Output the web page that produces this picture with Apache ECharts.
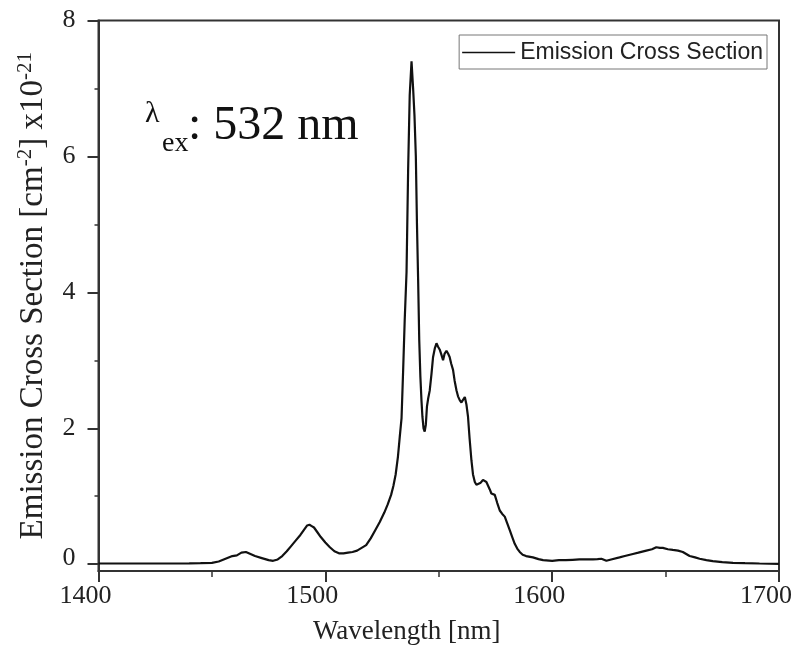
<!DOCTYPE html>
<html>
<head>
<meta charset="utf-8">
<title>Emission Cross Section</title>
<script src="https://cdn.jsdelivr.net/npm/echarts@6/dist/echarts.min.js"></script>
<style>
  html, body { margin: 0; padding: 0; background: #ffffff; }
  #chart { width: 799px; height: 648px; }
</style>
</head>
<body>
<div id="chart"></div>
<script>
// Emission cross section spectrum (units of 1e-21 cm^2) versus wavelength in nm
const wavelength = [
  1400, 1410, 1420, 1430, 1440, 1445, 1450, 1453, 1456, 1459,
  1461, 1463, 1465, 1467, 1469, 1472, 1475, 1477, 1479, 1481,
  1483, 1485, 1487, 1489, 1490.5, 1492, 1493, 1494, 1495, 1496.5,
  1498, 1500, 1502, 1504, 1506, 1508, 1510, 1512, 1514, 1516,
  1518, 1520, 1522, 1524, 1526, 1527.5, 1529, 1530, 1531, 1532,
  1532.8, 1533.6, 1534.3, 1535, 1535.8, 1536.5, 1537.2, 1538, 1538.7, 1539.3,
  1539.9, 1540.4, 1540.9, 1541.4, 1541.9, 1542.4, 1542.8, 1543.3, 1543.8, 1544.3,
  1544.8, 1545.4, 1546, 1546.8, 1547.5, 1548.3, 1549, 1549.7, 1550.4, 1551.2,
  1551.9, 1552.6, 1553.4, 1554.1, 1554.8, 1555.5, 1556.3, 1557, 1557.8, 1558.5,
  1559.3, 1560, 1560.7, 1561.5, 1562.2, 1562.9, 1563.6, 1564.4, 1565.1, 1565.9,
  1566.6, 1567.3, 1568.5, 1569.5, 1570.3, 1571, 1571.7, 1572.5, 1573.2, 1574,
  1574.7, 1575.8, 1576.9, 1578, 1579.1, 1580.2, 1581.3, 1582.4, 1583.5, 1584.6,
  1585.7, 1587, 1588.5, 1591.5, 1594, 1596, 1600, 1603, 1606, 1609,
  1612, 1615, 1618, 1620, 1621.7, 1623.9, 1626, 1629.7, 1632, 1635.6,
  1638, 1641.5, 1644, 1645.9, 1647.5, 1648.8, 1651, 1653.2, 1655.5, 1657.6,
  1660.6, 1663, 1665, 1668, 1670.8, 1675, 1679.7, 1685, 1691.4, 1700
];
const crossSection = [
  0.010, 0.010, 0.010, 0.010, 0.012, 0.015, 0.020, 0.040, 0.080, 0.120,
  0.130, 0.170, 0.180, 0.150, 0.120, 0.090, 0.060, 0.050, 0.070, 0.120,
  0.190, 0.270, 0.350, 0.430, 0.500, 0.570, 0.580, 0.560, 0.540, 0.470,
  0.400, 0.320, 0.250, 0.190, 0.160, 0.160, 0.170, 0.180, 0.200, 0.240,
  0.280, 0.380, 0.500, 0.620, 0.760, 0.880, 1.020, 1.150, 1.320, 1.580,
  1.870, 2.150, 2.850, 3.600, 4.300, 5.800, 6.900, 7.400, 7.000, 6.600,
  6.000, 5.000, 4.200, 3.300, 2.760, 2.400, 2.170, 2.000, 1.950, 2.050,
  2.320, 2.450, 2.550, 2.800, 3.050, 3.180, 3.250, 3.200, 3.160, 3.080,
  3.000, 3.100, 3.140, 3.100, 3.050, 2.950, 2.860, 2.700, 2.560, 2.470,
  2.410, 2.380, 2.370, 2.460, 2.350, 2.170, 1.850, 1.530, 1.320, 1.210,
  1.170, 1.150, 1.200, 1.240, 1.240, 1.210, 1.190, 1.100, 1.040, 1.040,
  1.020, 0.900, 0.790, 0.740, 0.700, 0.600, 0.500, 0.400, 0.300, 0.230,
  0.180, 0.140, 0.120, 0.100, 0.075, 0.060, 0.050, 0.060, 0.060, 0.065,
  0.070, 0.070, 0.070, 0.075, 0.080, 0.050, 0.070, 0.100, 0.120, 0.150,
  0.170, 0.200, 0.220, 0.250, 0.240, 0.240, 0.220, 0.210, 0.200, 0.180,
  0.120, 0.100, 0.080, 0.060, 0.045, 0.030, 0.020, 0.015, 0.010, 0.005
];

// Axis tick values
const xTickValues = [1400, 1500, 1600, 1700];
const yTickValues = [0, 2, 4, 6, 8];
const yMinorTickValues = [1, 3, 5, 7];

const seriesName = 'Emission Cross Section';
const serif = '"Liberation Serif", "DejaVu Serif", serif';
const sans = '"Liberation Sans", Arial, sans-serif';
const ink = '#222222';
const frame = '#333333';

const points = wavelength.map((w, i) => [w, crossSection[i]]);

const chart = echarts.init(document.getElementById('chart'), null, { renderer: 'canvas' });

chart.setOption({
  animation: false,
  backgroundColor: '#ffffff',
  grid: {
    left: 98.5, right: 20, top: 20.5, bottom: 77,
    containLabel: false, outerBoundsMode: 'none',
    show: true, borderColor: frame, borderWidth: 2, backgroundColor: 'transparent'
  },
  legend: {
    data: [{ name: seriesName, icon: 'rect' }],
    right: 32, top: 35,
    itemWidth: 53, itemHeight: 1.6,
    padding: [6, 4, 5, 3],
    borderColor: '#777777', borderWidth: 1,
    itemStyle: { color: '#111111' },
    textStyle: { fontFamily: sans, fontSize: 23, color: ink }
  },
  xAxis: {
    type: 'value',
    min: xTickValues[0], max: xTickValues[xTickValues.length - 1], interval: 100,
    name: 'Wavelength [nm]',
    nameLocation: 'middle', nameGap: 47,
    nameTextStyle: { fontFamily: serif, fontSize: 27, color: ink, padding: [0, 64, 0, 0] },
    axisLine: { show: true, onZero: false, lineStyle: { color: frame, width: 2 } },
    axisTick: { show: true, inside: false, length: 11, lineStyle: { color: frame, width: 2 } },
    minorTick: { show: true, splitNumber: 2, length: 6, lineStyle: { color: frame, width: 1.5 } },
    axisLabel: {
      margin: 12, fontFamily: serif, fontSize: 26, color: ink,
      padding: [0, 26, 0, 0],
      customValues: xTickValues,
      formatter: v => String(v)
    },
    splitLine: { show: false }
  },
  yAxis: [{
    type: 'value',
    min: -0.1, max: 8,
    position: 'left',
    name: 'Emission Cross Section [cm{sup|-2}] x10{sup|-21}',
    nameLocation: 'middle', nameGap: 46,
    nameTextStyle: {
      fontFamily: serif, fontSize: 33, color: ink, lineHeight: 37,
      rich: {
        sup: { fontFamily: serif, fontSize: 21, color: ink, verticalAlign: 'top', lineHeight: 21 }
      }
    },
    axisLine: { show: true, onZero: false, lineStyle: { color: frame, width: 2 } },
    axisTick: { show: true, inside: false, length: 11, customValues: yTickValues, lineStyle: { color: frame, width: 2 } },
    axisLabel: {
      margin: 23, fontFamily: serif, fontSize: 26, color: ink,
      customValues: yTickValues,
      formatter: v => (v === 0 ? '{z|0}' : String(v)),
      rich: { z: { fontFamily: serif, fontSize: 26, color: ink, padding: [0, 0, 12, 0] } }
    },
    splitLine: { show: false }
  }, {
    type: 'value',
    min: -0.1, max: 8,
    position: 'left',
    axisLine: { show: false },
    axisTick: { show: true, inside: false, length: 4, customValues: yMinorTickValues, lineStyle: { color: frame, width: 1.5 } },
    axisLabel: { show: false },
    splitLine: { show: false }
  }],
  graphic: [{
    type: 'text', left: 145, top: 99,
    style: { text: 'λ', fontFamily: serif, fontSize: 30, fill: '#111111' }
  }, {
    type: 'text', left: 162, top: 130,
    style: { text: 'ex', fontFamily: serif, fontSize: 28, fill: '#111111' }
  }, {
    type: 'text', left: 188, top: 102,
    style: { text: ': 532 nm', fontFamily: serif, fontSize: 48, fill: '#111111' }
  }],
  series: [{
    name: seriesName,
    type: 'line',
    yAxisIndex: 0,
    data: points,
    showSymbol: false,
    symbol: 'none',
    smooth: false,
    lineStyle: { color: '#111111', width: 2.2 },
    itemStyle: { color: '#111111' }
  }]
});
</script>
</body>
</html>
